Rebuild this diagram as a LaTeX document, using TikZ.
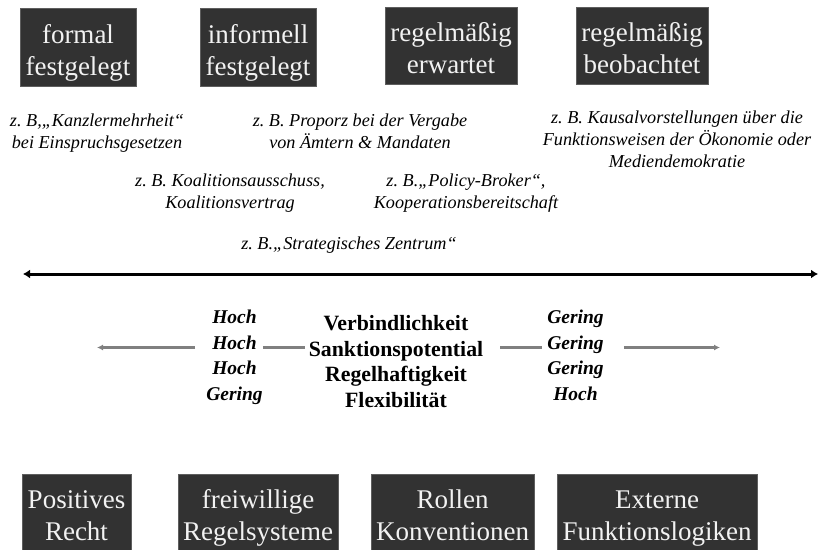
\documentclass[tikz,border=0pt]{standalone}
\usepackage{fontspec}
\setmainfont{Liberation Serif}
\usetikzlibrary{arrows.meta}
\definecolor{boxfill}{HTML}{323232}
\definecolor{boxline}{HTML}{5E5E5E}
\definecolor{arrowgray}{HTML}{808080}
\newcommand\bstr{\rule[-6pt]{0pt}{26pt}}
\newcommand\estr{\rule[-4.5pt]{0pt}{17.5pt}}
\tikzset{
  darkbox/.style={draw=boxline, line width=0.8pt, fill=boxfill, inner sep=0pt},
  boxtext/.style={text=white!95!black, font=\fontsize{27}{32}\selectfont, align=center, inner sep=0pt},
  example/.style={font=\fontsize{18.2}{22}\selectfont\itshape, align=center, inner sep=0pt},
  valtext/.style={font=\fontsize{19.5}{25.7}\selectfont\bfseries\itshape, anchor=base, inner sep=0pt},
  crittext/.style={font=\fontsize{21.8}{26}\selectfont\bfseries, anchor=base, inner sep=0pt},
  grayline/.style={draw=arrowgray, line width=2.5pt},
  grayarrow/.style={grayline, -{Latex[length=6pt,width=6pt]}},
  mainarrow/.style={line width=3pt, {Latex[length=7pt,width=9pt]}-{Latex[length=7pt,width=9pt]}},
}
\begin{document}
\begin{tikzpicture}[x=1pt,y=-1pt]
\useasboundingbox (0,0) rectangle (818,549);
\clip (0,0) rectangle (818,549);

% top boxes
\node[darkbox, minimum width=116pt, minimum height=78pt] (tb1) at (78,47) {};
\node[darkbox, minimum width=116pt, minimum height=78pt] (tb2) at (258,47) {};
\node[darkbox, minimum width=132pt, minimum height=77pt] (tb3) at (451,45.5) {};
\node[darkbox, minimum width=132pt, minimum height=77pt] (tb4) at (642,45.5) {};
\node[boxtext] (tt1) at (78,52.5) {\bstr formal\\\bstr festgelegt};
\node[boxtext] (tt2) at (258,52.5) {\bstr informell\\\bstr festgelegt};
\node[boxtext] (tt3) at (451,50.5) {\bstr regelmäßig\\\bstr erwartet};
\node[boxtext] (tt4) at (642,50.5) {\bstr regelmäßig\\\bstr beobachtet};

% examples
\node[example] (ex1) at (97,132.75) {\estr z.~B,„Kanzlermehrheit“\\\estr bei Einspruchsgesetzen};
\node[example] (ex2) at (360,132.75) {\estr z.~B. Proporz bei der Vergabe\\\estr von Ämtern \& Mandaten};
\node[example] (ex3) at (677,140.75) {\estr z.~B. Kausalvorstellungen über die\\\estr Funktionsweisen der Ökonomie oder\\\estr Mediendemokratie};
\node[example] (ex4) at (230,192.75) {\estr z.~B. Koalitionsausschuss,\\\estr Koalitionsvertrag};
\node[example] (ex5) at (466,192.75) {\estr z.~B.„Policy-Broker“,\\\estr Kooperationsbereitschaft};
\node[example] (ex6) at (349,244.75) {\estr z.~B.„Strategisches Zentrum“};

% main axis
\coordinate (axl) at (23,274);
\coordinate (axr) at (818,274);
\draw[mainarrow] (axl) -- (axr);

% left values
\node[valtext] (lv1) at (234.5,323) {Hoch};
\node[valtext] (lv2) at (234.5,349) {Hoch};
\node[valtext] (lv3) at (234.5,374.5) {Hoch};
\node[valtext] (lv4) at (234.5,400) {Gering};
% criteria
\node[crittext] (cr1) at (396,330) {Verbindlichkeit};
\node[crittext] (cr2) at (396,356) {Sanktionspotential};
\node[crittext] (cr3) at (396,381.5) {Regelhaftigkeit};
\node[crittext] (cr4) at (396,407) {Flexibilität};
% right values
\node[valtext] (rv1) at (575.5,323) {Gering};
\node[valtext] (rv2) at (575.5,349) {Gering};
\node[valtext] (rv3) at (575.5,374.5) {Gering};
\node[valtext] (rv4) at (575.5,400) {Hoch};

\coordinate (gy) at (0,347.5);
\coordinate (lend) at (97,347.5);
\coordinate (rend) at (720,347.5);
\draw[grayarrow, shorten <=17pt] (lv2.west |- gy) -- (lend);
\draw[grayline, shorten <=6pt, shorten >=4pt] (lv2.east |- gy) -- (cr2.west |- gy);
\draw[grayline, shorten <=17pt, shorten >=5pt] (cr2.east |- gy) -- (rv2.west |- gy);
\draw[grayarrow, shorten <=20pt] (rv2.east |- gy) -- (rend);

% bottom boxes
\node[darkbox, minimum width=109pt, minimum height=78pt] (bb1) at (76.5,513) {};
\node[darkbox, minimum width=160pt, minimum height=78pt] (bb2) at (258,513) {};
\node[darkbox, minimum width=163pt, minimum height=78pt] (bb3) at (452.5,513) {};
\node[darkbox, minimum width=200pt, minimum height=78pt] (bb4) at (657,513) {};
\node[boxtext] (bt1) at (76.5,517) {\bstr Positives\\\bstr Recht};
\node[boxtext] (bt2) at (258,517) {\bstr freiwillige\\\bstr Regelsysteme};
\node[boxtext] (bt3) at (452.5,517) {\bstr Rollen\\\bstr Konventionen};
\node[boxtext] (bt4) at (657,517) {\bstr Externe\\\bstr Funktionslogiken};
\end{tikzpicture}
\end{document}
